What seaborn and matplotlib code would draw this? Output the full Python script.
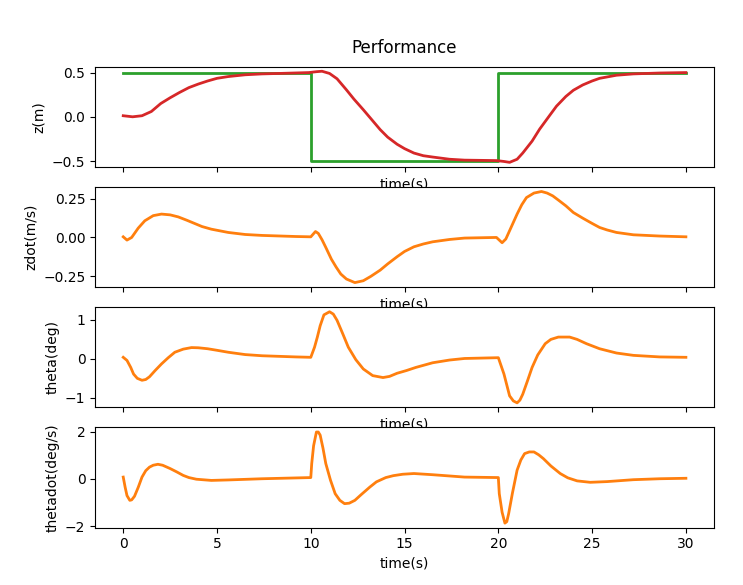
import numpy as np
import pandas as pd
from matplotlib import pyplot as plt
import seaborn as sns

# reference signal (step)
t_ref = [0, 10, 10, 20, 20, 30]
z_ref = [0.5, 0.5, -0.5, -0.5, 0.5, 0.5]

# z(m) response
t_z = [0, 0.5, 1.0, 1.5, 2.0, 2.5, 3.0, 3.5, 4.0, 4.5, 5.0, 5.6, 6.5, 7.4, 8.3, 9.9, 10.3, 10.6,
       11.0, 11.4, 11.9, 12.3, 12.8, 13.2, 13.7, 14.1, 14.6, 15.0, 15.5, 16.0, 16.5, 17.4, 18.2,
       19.9, 20.3, 20.6, 21.0, 21.3, 21.8, 22.2, 22.7, 23.1, 23.6, 24.0, 24.5, 25.0, 25.4, 26.3,
       27.2, 28.6, 30]
z = [0.012, 0.0, 0.012, 0.06, 0.15, 0.215, 0.275, 0.33, 0.37, 0.405, 0.435, 0.455, 0.475, 0.485,
     0.49, 0.5, 0.51, 0.515, 0.49, 0.43, 0.305, 0.2, 0.08, -0.02, -0.145, -0.23, -0.31, -0.36,
     -0.41, -0.44, -0.455, -0.48, -0.49, -0.495, -0.505, -0.515, -0.48, -0.41, -0.275, -0.14,
     0.005, 0.12, 0.23, 0.3, 0.36, 0.405, 0.435, 0.47, 0.485, 0.495, 0.5]

# zdot(m/s)
t_zdot = [0, 0.2, 0.45, 0.8, 1.15, 1.6, 2.04, 2.5, 2.93, 3.4, 3.8, 4.2, 4.7, 5.6, 6.5, 7.4, 9.2,
          10.0, 10.25, 10.4, 10.6, 10.8, 11.1, 11.35, 11.6, 11.9, 12.35, 12.8, 13.2, 13.7, 14.1,
          14.6, 15.0, 15.5, 16.0, 16.5, 17.4, 18.2, 19.9, 20.2, 20.4, 20.7, 21.0, 21.25, 21.5,
          21.9, 22.3, 22.6, 22.9, 23.2, 23.6, 24.0, 24.5, 25.0, 25.4, 25.8, 26.3, 27.2, 28.6, 30]
zdot = [0.004, -0.017, 0.0, 0.06, 0.107, 0.14, 0.15, 0.145, 0.132, 0.11, 0.09, 0.07, 0.053,
        0.032, 0.019, 0.013, 0.006, 0.004, 0.038, 0.026, -0.015, -0.064, -0.14, -0.19, -0.235,
        -0.267, -0.29, -0.278, -0.25, -0.21, -0.17, -0.124, -0.09, -0.06, -0.042, -0.028,
        -0.013, -0.004, 0.0, -0.034, -0.01, 0.07, 0.15, 0.21, 0.256, 0.285, 0.295, 0.285, 0.267,
        0.24, 0.203, 0.16, 0.124, 0.09, 0.064, 0.048, 0.032, 0.017, 0.009, 0.004]

# theta(deg)
t_theta = [0, 0.2, 0.4, 0.55, 0.75, 1.0, 1.2, 1.4, 1.7, 2.04, 2.4, 2.75, 3.2, 3.64, 4.0, 4.5,
           5.0, 5.6, 6.5, 7.4, 9.2, 10.0, 10.2, 10.35, 10.5, 10.7, 11.0, 11.2, 11.4, 11.7, 12.0,
           12.4, 12.8, 13.3, 13.85, 14.2, 14.6, 15.1, 15.6, 16.5, 17.4, 18.2, 20.0, 20.3, 20.6,
           20.8, 21.0, 21.15, 21.3, 21.55, 21.8, 22.1, 22.5, 22.8, 23.2, 23.8, 24.2, 24.7, 25.4,
           26.3, 27.2, 28.6, 30]
theta = [0.04, -0.04, -0.22, -0.39, -0.5, -0.55, -0.53, -0.46, -0.3, -0.13, 0.03, 0.17, 0.25,
         0.29, 0.285, 0.26, 0.22, 0.17, 0.11, 0.08, 0.05, 0.04, 0.3, 0.56, 0.85, 1.13, 1.21, 1.15,
         0.99, 0.65, 0.30, -0.02, -0.26, -0.43, -0.48, -0.45, -0.37, -0.3, -0.22, -0.1, -0.03,
         0.01, 0.03, -0.39, -0.95, -1.08, -1.13, -1.06, -0.91, -0.57, -0.22, 0.1, 0.39, 0.5,
         0.56, 0.56, 0.5, 0.39, 0.26, 0.15, 0.09, 0.05, 0.04]

# thetadot(deg/s)
t_thetadot = [0, 0.1, 0.2, 0.35, 0.45, 0.6, 0.8, 1.0, 1.2, 1.4, 1.6, 1.85, 2.1, 2.5, 2.85, 3.2,
              3.5, 3.9, 4.7, 5.6, 7.4, 10.0, 10.05, 10.15, 10.3, 10.4, 10.5, 10.65, 10.8, 11.05,
              11.3, 11.55, 11.8, 12.05, 12.35, 12.7, 13.15, 13.5, 14.0, 14.4, 14.9, 15.5, 16.5,
              18.2, 20.0, 20.05, 20.2, 20.35, 20.45, 20.55, 20.75, 21.0, 21.2, 21.4, 21.65, 21.9,
              22.15, 22.4, 22.8, 23.3, 23.7, 24.2, 24.9, 25.8, 27.2, 28.6, 30]
thetadot = [0.08, -0.34, -0.7, -0.9, -0.88, -0.73, -0.35, 0.08, 0.35, 0.5, 0.58, 0.62, 0.58,
            0.44, 0.3, 0.15, 0.06, -0.01, -0.06, -0.04, 0.01, 0.06, 0.65, 1.4, 1.98, 1.98, 1.85,
            1.3, 0.65, -0.05, -0.62, -0.9, -1.04, -1.02, -0.9, -0.65, -0.34, -0.12, 0.06, 0.14,
            0.2, 0.23, 0.18, 0.08, 0.06, -0.62, -1.4, -1.86, -1.8, -1.46, -0.6, 0.37, 0.8, 1.07,
            1.14, 1.14, 1.02, 0.86, 0.55, 0.23, 0.05, -0.08, -0.14, -0.11, -0.03, 0.01, 0.03]

fig, axes = plt.subplots(4, 1, figsize=(7.43, 5.85), dpi=100)
fig.subplots_adjust(left=0.128, right=0.961, top=0.886, bottom=0.098, hspace=0.2)

ax = axes[0]
sns.lineplot(x=t_ref, y=z_ref, ax=ax, color="tab:green", linewidth=2, estimator=None, sort=False)
sns.lineplot(x=t_z, y=z, ax=ax, color="tab:red", linewidth=2, estimator=None, sort=False)
ax.set_ylabel("z(m)")
ax.set_title("Performance", pad=10)

sns.lineplot(x=t_zdot, y=zdot, ax=axes[1], color="tab:orange", linewidth=2, estimator=None, sort=False)
axes[1].set_ylabel("zdot(m/s)")

sns.lineplot(x=t_theta, y=theta, ax=axes[2], color="tab:orange", linewidth=2, estimator=None, sort=False)
axes[2].set_ylabel("theta(deg)")

sns.lineplot(x=t_thetadot, y=thetadot, ax=axes[3], color="tab:orange", linewidth=2, estimator=None, sort=False)
axes[3].set_ylabel("thetadot(deg/s)")

for a in axes:
    a.set_xlim(-1.5, 31.5)
    a.set_xticks([0, 5, 10, 15, 20, 25, 30])
    a.set_xlabel("time(s)")
for a in axes[:3]:
    a.tick_params(axis="x", labelbottom=False)
axes[1].set_yticks([-0.25, 0.0, 0.25])
axes[2].set_yticks([-1, 0, 1])
axes[3].set_yticks([-2, 0, 2])

plt.savefig("out.png", dpi=100)
